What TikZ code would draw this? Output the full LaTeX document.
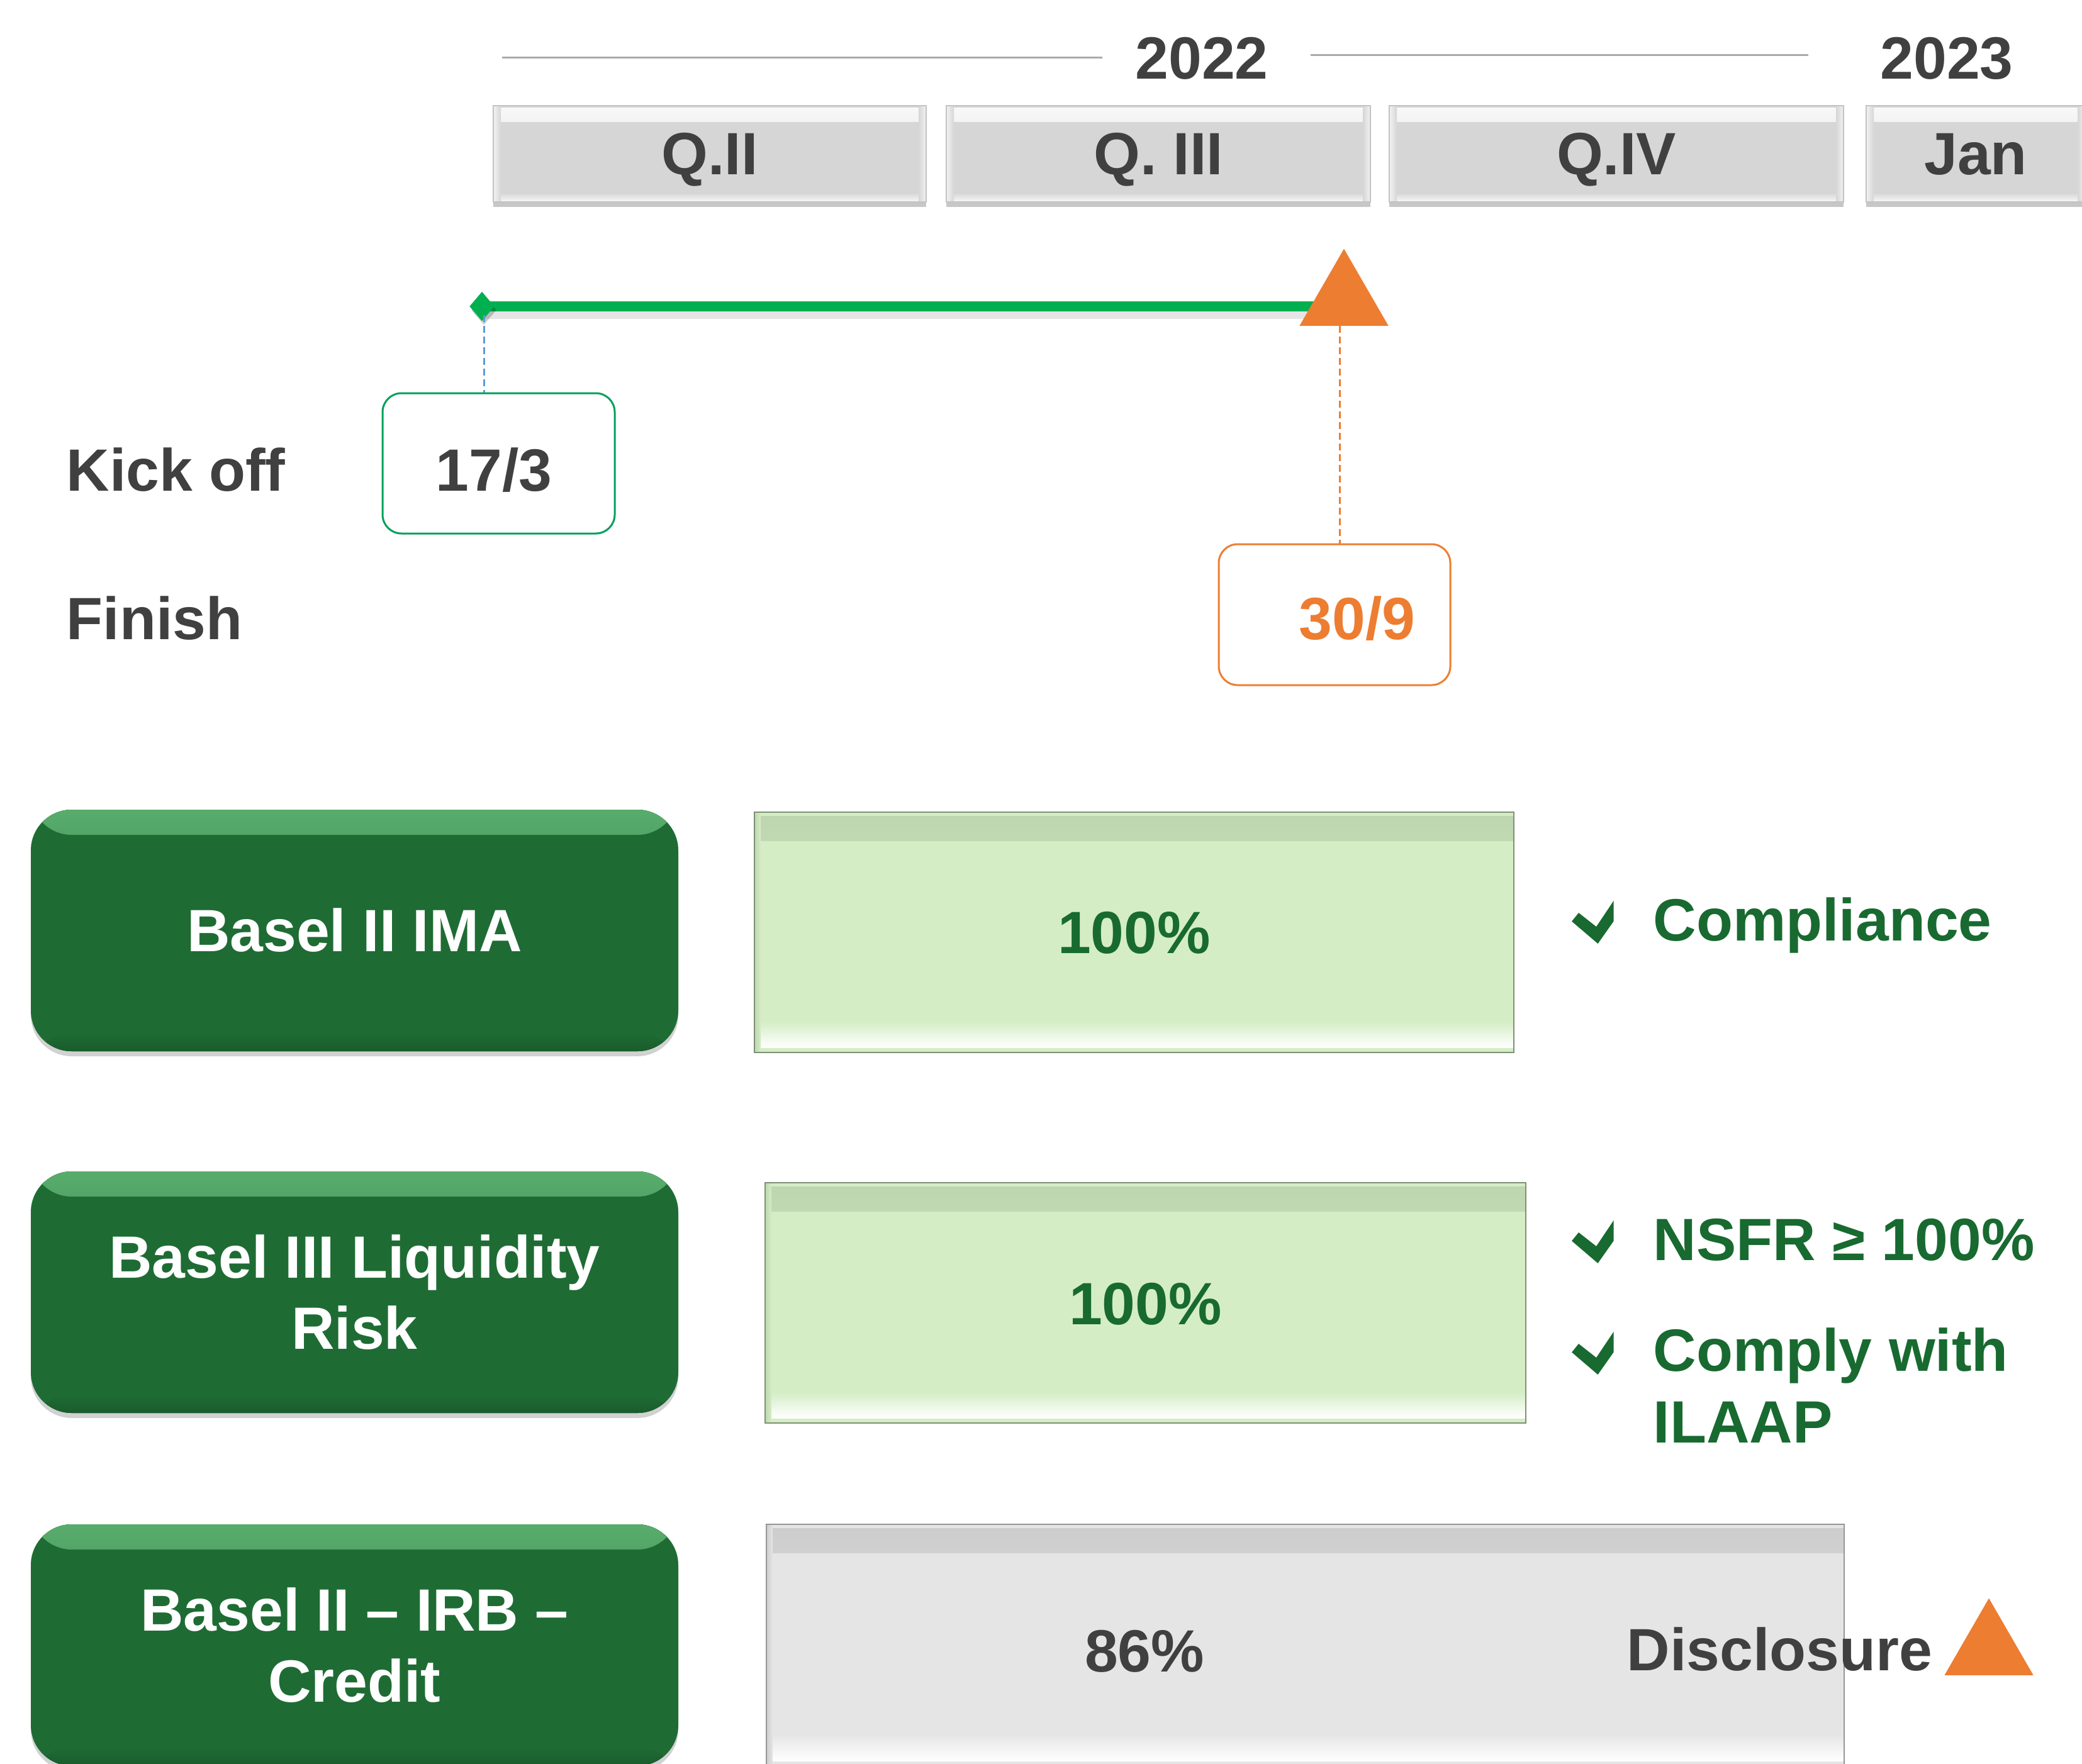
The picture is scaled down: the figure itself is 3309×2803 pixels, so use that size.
\documentclass[tikz,border=0pt]{standalone}
\usepackage{fontspec}
\setmainfont{Liberation Sans}
\usetikzlibrary{shadows,shapes.geometric,backgrounds}
\definecolor{dtext}{RGB}{64,64,64}
\definecolor{qfill}{RGB}{214,214,214}
\definecolor{qedge}{RGB}{195,195,195}
\definecolor{yline}{RGB}{170,170,170}
\definecolor{lgreen}{RGB}{0,176,80}
\definecolor{orng}{RGB}{237,125,49}
\definecolor{bdash}{RGB}{91,155,213}
\definecolor{kgreen}{RGB}{0,160,90}
\definecolor{dgreen}{RGB}{30,108,52}
\definecolor{hlgreen}{RGB}{88,172,108}
\definecolor{tgreen}{RGB}{24,106,48}
\definecolor{lgfill}{RGB}{212,237,197}
\definecolor{lgdark}{RGB}{190,214,176}
\definecolor{lgedge}{RGB}{125,145,115}
\definecolor{gyfill}{RGB}{229,229,229}
\definecolor{gydark}{RGB}{205,205,205}
\definecolor{gyedge}{RGB}{150,150,150}
\begin{document}
\begin{tikzpicture}[x=0.1mm,y=-0.1mm,
  font=\fontsize{27}{32.4}\selectfont\bfseries,
  captext/.style={inner sep=0pt, text height=19.33pt, text depth=0pt},
  qbox/.style={draw=qedge, line width=0.2mm, fill=qfill, text=dtext, inner sep=0pt,
    minimum height=15.3mm, text height=19.33pt, text depth=0pt,
    drop shadow={shadow xshift=0mm, shadow yshift=-0.8mm, opacity=0.22, fill=black},
    path picture={
      \fill[top color=white!85!qfill, bottom color=qfill] ([yshift=-0.4mm]path picture bounding box.north west) rectangle ([yshift=-2.6mm]path picture bounding box.north east);
      \fill[top color=qfill, bottom color=white!80!qfill] ([yshift=1.4mm]path picture bounding box.south west) rectangle (path picture bounding box.south east);
      \fill[left color=white!70!qfill, right color=qfill] (path picture bounding box.north west) rectangle ([xshift=1.2mm]path picture bounding box.south west);
      \fill[left color=qfill, right color=white!70!qfill] ([xshift=-1.2mm]path picture bounding box.north east) rectangle (path picture bounding box.south east);
    }},
  gbox/.style={fill=dgreen, rounded corners=6.5mm, text=white, align=center, inner sep=0pt,
    minimum width=102.9mm, minimum height=38.4mm,
    drop shadow={shadow xshift=0mm, shadow yshift=-0.8mm, opacity=0.18, fill=black},
    path picture={
      \fill[top color=hlgreen, bottom color=dgreen] (path picture bounding box.north west) rectangle ([yshift=-4mm]path picture bounding box.north east);
      \fill[top color=dgreen, bottom color=dgreen!85!black] ([yshift=3mm]path picture bounding box.south west) rectangle (path picture bounding box.south east);
    }},
  bar/.style n args={3}{draw=#3, line width=0.25mm, fill=#1, inner sep=0pt,
    path picture={
      \fill[top color=#2, bottom color=#1] ([yshift=-0.6mm]path picture bounding box.north west) rectangle ([yshift=-4.5mm]path picture bounding box.north east);
      \fill[top color=#1, bottom color=white] ([yshift=5mm]path picture bounding box.south west) rectangle ([yshift=0.8mm]path picture bounding box.south east);
      \fill[left color=#2, right color=#1] (path picture bounding box.north west) rectangle ([xshift=1mm]path picture bounding box.south west);
    }},
  dashline/.style={line width=0.3mm, dash pattern=on 1.1mm off 0.6mm},
  datebox/.style={line width=0.3mm, rounded corners=3mm, inner sep=0pt},
  milestone/.style={regular polygon, regular polygon sides=3, fill=orng, minimum size=16.3mm, inner sep=0pt},
  chk/.pic={\fill[tgreen] (-33,-1.5) -- (-22,-15) -- (6,7) -- (33.5,-34) -- (33.5,-1.5) -- (8.5,34) -- cycle;}
]
\useasboundingbox (0,0) rectangle (3309,2803);
\clip (0,0) rectangle (3309,2803);

% years
\node[captext, text=dtext] (y22) at (1910,92) {2022};
\node[captext, text=dtext] (y23) at (3094,92) {2023};
\coordinate (l1a) at (798,91); \coordinate (l1b) at (1752,91);
\coordinate (l2a) at (2083,87); \coordinate (l2b) at (2874,87);
\draw[yline, line width=0.3mm] (l1a) -- (l1b);
\draw[yline, line width=0.3mm] (l2a) -- (l2b);

% quarters
\node[qbox, minimum width=68.8mm] (q2) at (1128,244) {Q.II};
\node[qbox, minimum width=67.4mm] (q3) at (1841,244) {Q. III};
\node[qbox, minimum width=72.2mm] (q4) at (2569,244) {Q.IV};
\node[qbox, minimum width=34.8mm] (qj) at (3140,244) {Jan};

% timeline
\node[diamond, fill=lgreen, minimum width=4mm, minimum height=4.7mm, inner sep=0pt,
      drop shadow={shadow xshift=0.3mm, shadow yshift=-0.6mm, opacity=0.2, fill=black}] (dia) at (766,487) {};
\node[milestone] (tri) at (2136,477) {};
\begin{scope}[on background layer]
\draw[black, opacity=0.1, line width=2.4mm] ([yshift=-0.8mm]dia.center) -- ([yshift=-0.8mm]dia.center -| tri.center);
\draw[lgreen, line width=1.6mm] (dia.center) -- (dia.center -| tri.center);
\end{scope}

\node[draw=kgreen, datebox, minimum width=36.9mm, minimum height=22.3mm] (b173) at (792.5,736.5) {};
\node[captext, text=dtext] (t173) at (785,747) {17/3};
\node[draw=orng, datebox, minimum width=36.8mm, minimum height=22.4mm] (b309) at (2121,977) {};
\node[captext, text=orng] (t309) at (2157,983) {30/9};

\draw[bdash, dashline] ([xshift=0.3mm,yshift=1mm]dia.south) -- ([xshift=0.3mm]dia.south |- b173.north);
\draw[orng, dashline] ([xshift=-0.7mm]tri.south) -- ([xshift=-0.7mm]tri.south |- b309.north);

\node[captext, anchor=west, text=dtext] (ko) at (105,747) {Kick off};
\node[captext, anchor=west, text=dtext] (fin) at (105,983) {Finish};

% projects
\node[gbox] (g1) at (563.5,1479) {Basel II IMA};
\node[gbox] (g2) at (563.5,2054) {Basel III Liquidity\\Risk};
\node[gbox] (g3) at (563.5,2615) {Basel II – IRB –\\Credit};

\node[bar={lgfill}{lgdark}{lgedge}, minimum width=120.7mm, minimum height=38.2mm, text=tgreen, text height=19.33pt, text depth=0pt] (p1) at (1802.5,1482) {100\%};
\node[bar={lgfill}{lgdark}{lgedge}, minimum width=120.9mm, minimum height=38.2mm, text=tgreen, text height=19.33pt, text depth=0pt] (p2) at (1820.5,2071) {100\%};
\node[bar={gyfill}{gydark}{gyedge}, minimum width=171.3mm, minimum height=38.4mm] (p3) at (2074.5,2615) {};
\node[captext, text=dtext] (t86) at (1819,2623) {86\%};
\node[captext, anchor=west, text=dtext] (disc) at (2585,2621) {Disclosure};
\node[milestone] (tri2) at (3161,2622) {};

% results
\pic at (2531,1466) {chk};
\node[captext, anchor=west, text=tgreen] (c1) at (2627,1462) {Compliance};
\pic at (2531,1974) {chk};
\node[captext, anchor=west, text=tgreen] (c2) at (2627,1969) {NSFR ≥ 100\%};
\pic at (2531,2151) {chk};
\node[anchor=west, align=left, inner sep=0pt, text=tgreen] (c3) at (2627,2202) {Comply with\\ILAAP};
\end{tikzpicture}
\end{document}
